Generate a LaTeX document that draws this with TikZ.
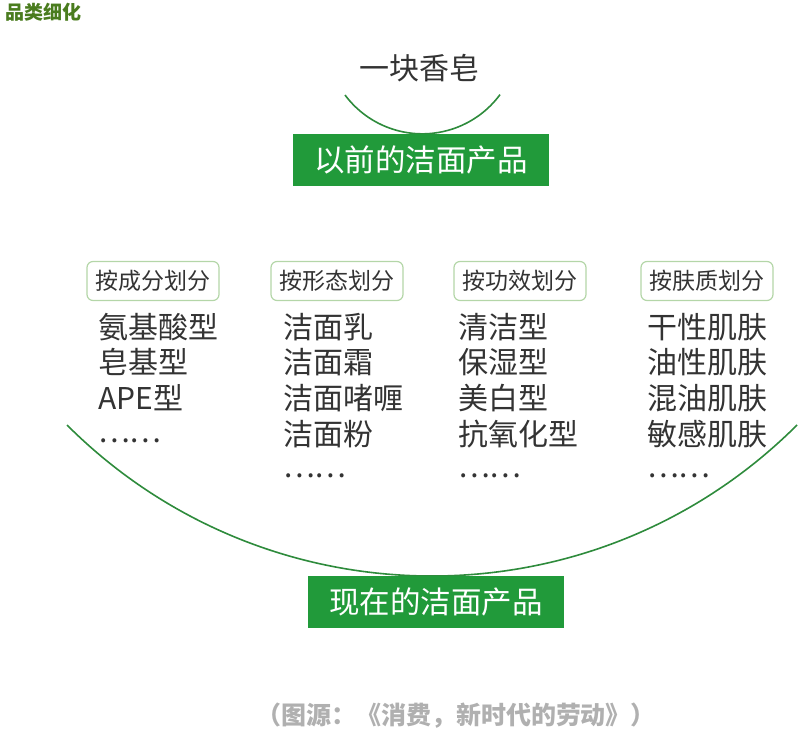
\documentclass[tikz,border=0pt]{standalone}
\usepackage{fontspec}
\setmainfont{Noto Sans CJK SC}
\definecolor{boxgreen}{RGB}{33,154,58}
\definecolor{arcgreen}{RGB}{46,139,60}
\definecolor{titlegreen}{RGB}{74,124,30}
\definecolor{catline}{RGB}{180,214,168}
\definecolor{textgray}{RGB}{51,51,51}
\definecolor{notegray}{RGB}{176,176,176}
\tikzset{
  greenbox/.style={fill=boxgreen, text=white, minimum width=256pt, minimum height=52pt,
    inner sep=0pt, font=\fontsize{30.5}{36}\selectfont},
  catbox/.style={draw=catline, line width=1.2pt, rounded corners=6pt, minimum width=132pt,
    minimum height=39pt, inner sep=0pt, text=textgray, font=\fontsize{23}{28}\selectfont},
  item/.style={anchor=west, inner sep=0pt, text=textgray, font=\fontsize{30}{36}\selectfont},
  bowl/.style={draw=arcgreen, line width=1.6pt},
}
\begin{document}
\begin{tikzpicture}[x=1pt,y=1pt]
  \useasboundingbox (0,0) rectangle (807,-731);

  % Coordinates
  \coordinate (S1) at (345,-95);
  \coordinate (S2) at (67,-425);

  % Heading
  \node[anchor=west, inner sep=0pt, text=titlegreen, font=\fontsize{19}{22}\selectfont\bfseries]
    (title) at (5,-12) {品类细化};

  % Before
  \node[inner sep=0pt, text=textgray, font=\fontsize{30}{36}\selectfont] (soap) at (419,-68) {一块香皂};
  \draw[bowl] (S1) arc[start angle=216.7, end angle=323.6, radius=96.5];
  \node[greenbox] (before) at (421,-160) {以前的洁面产品};

  % Categories
  \node[catbox] (byIng)  at (153,-281) {按成分划分};
  \node[catbox] (byForm) at (337,-281) {按形态划分};
  \node[catbox] (byEff)  at (520,-281) {按功效划分};
  \node[catbox] (bySkin) at (707,-281) {按肤质划分};

  \node[item] (ing1) at (98,-327) {氨基酸型};
  \node[item] (ing2) at (98,-362) {皂基型};
  \node[item] (ing3) at (98,-398) {APE型};
  \node[item] (ing4) at (98,-441) {……};

  \node[item] (form1) at (283,-327) {洁面乳};
  \node[item] (form2) at (283,-362) {洁面霜};
  \node[item] (form3) at (283,-398) {洁面啫喱};
  \node[item] (form4) at (283,-434) {洁面粉};
  \node[item] (form5) at (283,-476) {……};

  \node[item] (eff1) at (458,-327) {清洁型};
  \node[item] (eff2) at (458,-362) {保湿型};
  \node[item] (eff3) at (458,-398) {美白型};
  \node[item] (eff4) at (458,-434) {抗氧化型};
  \node[item] (eff5) at (458,-476) {……};

  \node[item] (skin1) at (647,-327) {干性肌肤};
  \node[item] (skin2) at (647,-362) {油性肌肤};
  \node[item] (skin3) at (647,-398) {混油肌肤};
  \node[item] (skin4) at (647,-434) {敏感肌肤};
  \node[item] (skin5) at (647,-476) {……};

  % Now
  \draw[bowl] (S2) arc[start angle=225.04, end angle=314.96, radius=516.6];
  \node[greenbox] (now) at (436,-602) {现在的洁面产品};

  % Source
  \node[inner sep=0pt, text=notegray, font=\fontsize{25}{30}\selectfont\bfseries]
    (source) at (456,-716) {（图源：《消费，新时代的劳动》）};
\end{tikzpicture}
\end{document}
